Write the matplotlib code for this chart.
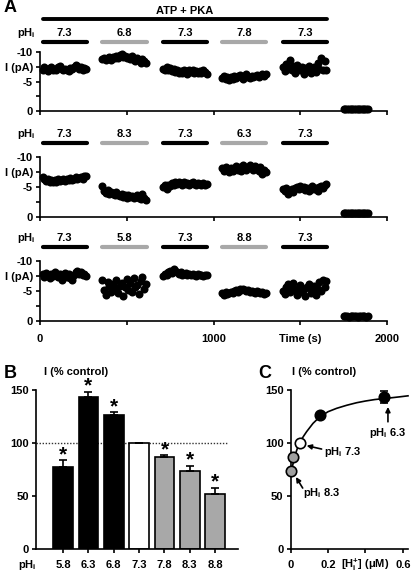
import numpy as np
import matplotlib.pyplot as plt
from matplotlib.transforms import blended_transform_factory

plt.rcParams['font.family'] = ['Liberation Sans', 'DejaVu Sans']
plt.rcParams['font.weight'] = 'bold'
plt.rcParams['font.size'] = 8
plt.rcParams['mathtext.default'] = 'regular'
plt.rcParams['axes.linewidth'] = 1.2
plt.rcParams['xtick.major.width'] = 1.2
plt.rcParams['ytick.major.width'] = 1.2
plt.rcParams['xtick.major.size'] = 3
plt.rcParams['ytick.major.size'] = 3
plt.rcParams['xtick.major.pad'] = 3
plt.rcParams['ytick.major.pad'] = 2

# ---- panel A data: current traces (pA), one list per perfusion period ----
seg_start = [15, 360, 710, 1050, 1400]   # s
zero_start = 1750                         # s
dt = 10                                   # s between samples

t1_segs = [
    [-7.0, -7.4, -7.1, -6.8, -7.3, -7.5, -7.0, -7.2, -6.9, -7.4, -7.6, -7.1, -6.9,
     -7.2, -7.0, -6.8, -7.3, -7.1, -7.5, -7.8, -7.6, -7.2, -7.4, -7.0, -7.3, -7.1],
    [-8.8, -9.0, -8.6, -8.9, -9.1, -8.7, -9.2, -8.9, -9.3, -9.0, -9.5, -9.7, -9.2,
     -9.4, -8.9, -9.1, -8.8, -9.3, -8.7, -8.5, -8.9, -8.6, -8.2, -8.8, -8.4, -8.1],
    [-7.2, -6.9, -7.4, -7.0, -7.3, -6.8, -7.1, -6.6, -6.9, -6.5, -6.8, -6.4, -7.0,
     -6.7, -6.3, -6.9, -6.6, -7.0, -6.5, -6.8, -6.4, -6.7, -6.5, -6.9, -6.6, -6.3],
    [-5.6, -5.9, -5.4, -5.7, -5.3, -5.8, -5.5, -6.0, -5.6, -5.9, -6.1, -5.7, -5.5,
     -5.9, -6.2, -5.8, -5.6, -6.0, -5.7, -5.9, -6.1, -5.8, -6.0, -6.3, -5.9, -6.2],
    [-7.5, -6.8, -7.9, -7.2, -8.6, -7.0, -7.6, -6.5, -7.8, -7.1, -6.9, -7.4, -6.2,
     -7.3, -6.8, -7.7, -6.4, -7.0, -7.5, -6.6, -8.1, -7.2, -8.9, -6.9, -8.4, -7.0],
]
t1_zero = [-0.3, -0.4, -0.3, -0.35, -0.3, -0.4, -0.3, -0.35, -0.3, -0.4, -0.3, -0.35, -0.3, -0.4, -0.3]

t2_segs = [
    [-6.6, -6.3, -6.0, -6.4, -5.9, -6.2, -5.8, -6.1, -5.9, -6.3, -6.0, -6.2, -6.4,
     -6.0, -6.3, -6.1, -6.5, -6.2, -6.4, -6.6, -6.3, -6.5, -6.7, -6.4, -6.8, -6.9],
    [-5.2, -4.4, -4.0, -4.5, -3.8, -4.2, -3.9, -3.6, -4.1, -3.7, -3.5, -3.9, -3.4,
     -3.6, -3.2, -3.7, -3.3, -3.5, -3.1, -3.4, -3.6, -3.2, -3.0, -3.8, -3.1, -2.8],
    [-5.0, -5.3, -4.7, -5.4, -5.1, -5.6, -5.3, -5.8, -5.5, -5.9, -5.6, -5.4, -5.8,
     -5.5, -5.7, -5.3, -5.6, -5.8, -5.5, -5.4, -5.7, -5.5, -5.3, -5.6, -5.4, -5.5],
    [-8.1, -7.6, -8.4, -7.9, -7.5, -8.2, -7.7, -8.0, -8.5, -7.8, -8.3, -7.6, -8.6,
     -8.1, -7.9, -8.4, -8.7, -8.2, -7.8, -8.5, -8.0, -7.6, -8.3, -7.2, -7.9, -7.5],
    [-4.6, -4.3, -4.8, -3.9, -4.4, -4.7, -4.2, -4.9, -5.0, -4.6, -5.2, -4.8, -5.0,
     -4.5, -4.9, -4.3, -4.7, -5.1, -4.6, -4.9, -4.4, -5.0, -5.2, -4.8, -5.4, -5.5],
]
t2_zero = [-0.7, -0.75, -0.7, -0.65, -0.7, -0.75, -0.7, -0.7, -0.65, -0.7, -0.75, -0.7, -0.7, -0.65, -0.7]

t3_segs = [
    [-7.8, -7.4, -8.0, -7.6, -7.2, -7.9, -7.5, -8.1, -7.7, -7.3, -7.9, -6.9, -7.6,
     -8.0, -7.4, -7.8, -7.2, -6.8, -7.6, -8.2, -8.4, -7.9, -8.1, -7.6, -7.8, -7.5],
    [-6.8, -5.2, -4.3, -6.5, -5.8, -4.9, -6.2, -5.5, -6.9, -4.6, -5.9, -6.4, -4.2,
     -5.7, -7.0, -5.1, -6.3, -4.8, -7.2, -5.6, -6.0, -4.5, -6.6, -7.4, -5.3, -6.1],
    [-7.5, -7.9, -7.6, -8.1, -8.3, -8.0, -8.6, -8.4, -8.1, -7.8, -8.2, -7.6, -7.9,
     -8.0, -7.7, -7.9, -7.6, -7.8, -7.7, -7.5, -7.8, -7.6, -7.7, -7.5, -7.6, -7.7],
    [-4.6, -4.3, -4.8, -4.5, -4.7, -4.9, -4.6, -5.0, -5.2, -4.9, -5.3, -5.1, -5.4,
     -5.2, -5.0, -5.1, -4.8, -5.0, -4.9, -4.7, -5.0, -4.8, -4.6, -4.9, -4.5, -4.7],
    [-5.0, -4.5, -5.6, -6.1, -4.9, -5.8, -6.4, -5.2, -4.3, -5.5, -6.0, -4.8, -5.3,
     -4.1, -5.7, -6.2, -4.6, -5.1, -5.9, -4.4, -5.4, -6.5, -5.0, -6.8, -5.7, -6.6],
]
t3_zero = [-0.8, -0.85, -0.8, -0.75, -0.8, -0.85, -0.8, -0.8, -0.75, -0.8, -0.85, -0.8, -0.8, -0.75, -0.8]

ph_rows = [
    ["7.3", "6.8", "7.3", "7.8", "7.3"],
    ["7.3", "8.3", "7.3", "6.3", "7.3"],
    ["7.3", "5.8", "7.3", "8.8", "7.3"],
]

# ---- panel B data ----
ph_labels = ["5.8", "6.3", "6.8", "7.3", "7.8", "8.3", "8.8"]
bar_vals = [77, 143, 126, 100, 87, 74, 52]
bar_err = [6.5, 5.5, 3, 0, 1.5, 4.5, 6]
bar_star = [True, True, True, False, True, True, True]

# ---- panel C data ----
h_conc = [0.005, 0.016, 0.05, 0.158, 0.5]      # uM
h_vals = [74, 87, 100, 126, 143]
h_err = [0, 0, 0, 0, 5.7]
h_fill = ["#a0a0a0", "#a0a0a0", "white", "black", "black"]
h_ticks = [0, 0.2, 0.4, 0.6]
h_ticklabels = ["0", "0.2", "[H$_\\mathregular{i}^\\mathregular{+}$] (\u03bcM)", "0.6"]
fit_x = [0, 0.005, 0.016, 0.03, 0.046, 0.07, 0.086, 0.12, 0.154, 0.2, 0.246, 0.3,
         0.353, 0.4, 0.45, 0.52, 0.58, 0.627]
fit_y = [70, 73.5, 82.5, 91.5, 99.7, 106.5, 110.7, 118.5, 124.3, 129.5, 132.7, 135.6,
         138, 139.6, 141, 142.3, 143.5, 144.5]

BLACK = "black"
GREY = "#a8a8a8"

W, H = 416, 576
fig = plt.figure(figsize=(W / 100, H / 100), dpi=100)


def px_axes(x0, y_top, x1, y_bot):
    return fig.add_axes([x0 / W, 1 - y_bot / H, (x1 - x0) / W, (y_bot - y_top) / H])


def fy(py):
    return 1 - py / H


# ---- panel A ----
trace_px = [(52, 111), (157, 217), (261, 321)]
row_px = [(33, 42), (134, 143), (238, 247)]
traces = [(t1_segs, t1_zero), (t2_segs, t2_zero), (t3_segs, t3_zero)]
seg_len = 255

for k, ((top, bot), (lab_y, bar_y), (segs, zero)) in enumerate(zip(trace_px, row_px, traces)):
    ax = px_axes(40, top, 387, bot)
    for s0, vals in zip(seg_start, segs):
        t = s0 + dt * np.arange(len(vals))
        ax.plot(t, vals, "o", color=BLACK, ms=5.8, mew=0, clip_on=False)
    tz = zero_start + dt * np.arange(len(zero))
    ax.plot(tz, zero, "o", color=BLACK, ms=5.8, mew=0, clip_on=False)
    ax.set_xlim(0, 2000)
    ax.set_ylim(0, -10)
    ax.spines["top"].set_visible(False)
    ax.spines["right"].set_visible(False)
    ax.set_yticks([-10, -7.5, -5, -2.5, 0])
    ax.set_yticklabels(["-10", "I (pA)", "-5", "", "0"])
    ax.set_xticks([0, 500, 1000, 1500, 2000])
    if k == 2:
        ax.set_xticklabels(["0", "", "1000", "Time (s)", "2000"])
        ax.tick_params(axis="x", pad=6)
    else:
        ax.set_xticklabels([])

    tr = blended_transform_factory(ax.transData, fig.transFigure)
    for j, (s0, lab) in enumerate(zip(seg_start, ph_rows[k])):
        c = BLACK if j % 2 == 0 else GREY
        ax.plot([s0, s0 + seg_len], [fy(bar_y)] * 2, color=c, lw=3,
                solid_capstyle="round", transform=tr, clip_on=False)
        ax.text(s0 + seg_len / 2, fy(lab_y), lab, transform=tr,
                ha="center", va="center")
    fig.text(26 / W, fy(lab_y), "pH$_\\mathregular{i}$", ha="center", va="center")

    if k == 0:
        ax.plot([seg_start[0], seg_start[-1] + seg_len], [fy(19)] * 2, color=BLACK,
                lw=2.8, solid_capstyle="round", transform=tr, clip_on=False)
        ax.text((seg_start[0] + seg_start[-1] + seg_len) / 2, fy(11), "ATP + PKA",
                transform=tr, ha="center", va="center")

fig.text(4 / W, fy(8), "A", fontsize=13, ha="left", va="center")

# ---- panel B ----
axb = px_axes(36, 390, 238, 549)
pos = np.arange(len(ph_labels))
bar_colors = [BLACK, BLACK, BLACK, "white", GREY, GREY, GREY]
axb.plot([-1.07, 6.45], [100, 100], ls=(0, (1, 1.2)), color="#333333", lw=1, zorder=1)
axb.bar(pos, bar_vals, width=0.78, color=bar_colors, edgecolor=BLACK, linewidth=1.2, zorder=2)
axb.errorbar(pos, bar_vals, yerr=[np.zeros(len(pos)), bar_err], fmt="none", ecolor=BLACK,
             elinewidth=1.2, capsize=3, capthick=1.2, zorder=3)
for p, v, e, s in zip(pos, bar_vals, bar_err, bar_star):
    if s:
        axb.text(p, v + e - 3.5, "*", fontsize=15, ha="center", va="bottom")
axb.set_xlim(-1.07, 6.9)
axb.set_ylim(0, 150)
axb.set_yticks([0, 50, 100, 150])
axb.set_xticks(pos)
axb.set_xticklabels([])
axb.spines["top"].set_visible(False)
axb.spines["right"].set_visible(False)
trb = blended_transform_factory(axb.transData, fig.transFigure)
for p, lab in zip(pos, ph_labels):
    axb.text(p, fy(568), lab, transform=trb, ha="center", va="baseline")
fig.text(27 / W, fy(568), "pH$_\\mathregular{i}$", ha="center", va="baseline")
fig.text(76 / W, fy(372), "I (% control)", ha="center", va="center")
fig.text(4 / W, fy(373), "B", fontsize=13, ha="left", va="center")

# ---- panel C ----
axc = px_axes(290.5, 390, 408, 549)
axc.plot(fit_x, fit_y, color=BLACK, lw=1.2, zorder=2, clip_on=False)
axc.errorbar(h_conc[-1], h_vals[-1], yerr=h_err[-1], fmt="none", ecolor=BLACK,
             elinewidth=1.2, capsize=3, capthick=1.2, zorder=3)
for x, y, c in zip(h_conc, h_vals, h_fill):
    axc.plot(x, y, "o", ms=7.5, mfc=c, mec=BLACK, mew=1.2, zorder=4, clip_on=False)
axc.set_xlim(0, 0.627)
axc.set_ylim(0, 150)
axc.set_yticks([0, 50, 100, 150])
axc.set_xticks(h_ticks)
axc.set_xticklabels([])
axc.spines["top"].set_visible(False)
axc.spines["right"].set_visible(False)
trc = blended_transform_factory(axc.transData, fig.transFigure)
for x, lab in zip(h_ticks, h_ticklabels):
    axc.text(x, fy(568), lab, transform=trc, ha="center", va="baseline")

arrow = dict(arrowstyle="-|>", color=BLACK, lw=1.2, mutation_scale=7, shrinkA=0, shrinkB=0)
axc.annotate("", xy=(0.52, 134), xytext=(0.52, 120), arrowprops=arrow)
axc.text(0.52, 109.5, "pH$_\\mathregular{i}$ 6.3", ha="center", va="center")
axc.annotate("", xy=(0.086, 97.5), xytext=(0.166, 94.3), arrowprops=arrow)
axc.text(0.179, 91.5, "pH$_\\mathregular{i}$ 7.3", ha="left", va="center")
axc.annotate("", xy=(0.029, 67.9), xytext=(0.065, 57.5), arrowprops=arrow)
axc.text(0.067, 52.8, "pH$_\\mathregular{i}$ 8.3", ha="left", va="center")

fig.text(324 / W, fy(372), "I (% control)", ha="center", va="center")
fig.text(258 / W, fy(373), "C", fontsize=13, ha="left", va="center")

fig.savefig("out.png", dpi=100)
